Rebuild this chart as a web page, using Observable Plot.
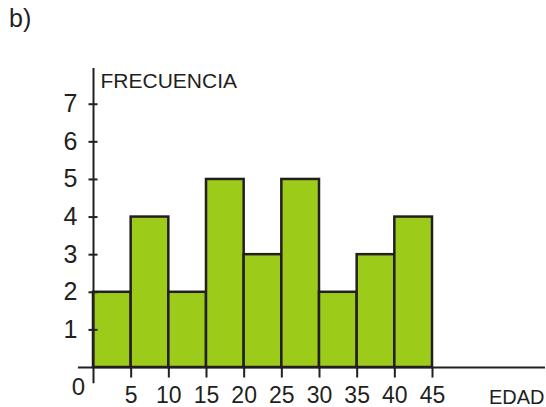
<!DOCTYPE html>
<html>
<head>
<meta charset="utf-8">
<script src="https://cdn.jsdelivr.net/npm/d3@7"></script>
<script src="https://cdn.jsdelivr.net/npm/@observablehq/plot@0.6"></script>
<style>
  body { margin: 0; background: #fff; }
  #wrap { position: relative; width: 546px; height: 407px; font-family: "Liberation Sans", Arial, sans-serif; }
  #tag { position: absolute; left: 9px; top: 4px; font-size: 25px; color: #231f20; }
</style>
</head>
<body>
<div id="wrap"><div id="tag">b)</div></div>
<script>
const binStarts = [0, 5, 10, 15, 20, 25, 30, 35, 40];
const binWidth = 5;
const frequencies = [2, 4, 2, 5, 3, 5, 2, 3, 4];
const xTickValues = [5, 10, 15, 20, 25, 30, 35, 40, 45];
const yTickValues = [1, 2, 3, 4, 5, 6, 7];
const yAxisLabel = "FRECUENCIA";
const xAxisLabel = "EDAD";

const bars = binStarts.map((s, i) => ({x1: s, x2: s + binWidth, y: frequencies[i]}));
const ink = "#231f20";

const chart = Plot.plot({
  width: 546,
  height: 407,
  marginLeft: 93,
  marginRight: 1,
  marginTop: 68,
  marginBottom: 40,
  style: {fontFamily: "'Liberation Sans', Arial, sans-serif", background: "transparent"},
  x: {domain: [0, 60], axis: null},
  y: {domain: [0, 7.95], axis: null},
  marks: [
    Plot.rectY(bars, {x1: "x1", x2: "x2", y1: 0, y2: "y", fill: "#9dcb19", stroke: ink, strokeWidth: 2.5}),
    Plot.ruleY([0], {x1: -2, x2: 60, stroke: ink, strokeWidth: 2}),
    Plot.ruleX([0], {y1: -0.43, y2: 7.95, stroke: ink, strokeWidth: 2}),
    Plot.ruleY(yTickValues, {x1: -0.6, x2: 0.6, stroke: ink, strokeWidth: 2}),
    Plot.ruleX(xTickValues, {y1: 0, y2: -0.28, stroke: ink, strokeWidth: 2}),
    Plot.text(yTickValues, {x: 0, y: d => d, text: d => String(d), dx: -16, textAnchor: "end", fontSize: 25, fill: ink}),
    Plot.text(xTickValues, {x: d => d, y: 0, text: d => String(d), dy: 28, fontSize: 23, fill: ink}),
    Plot.text(["0"], {x: 0, y: 0, text: d => d, dx: -15, dy: 20, fontSize: 24, fill: ink}),
    Plot.text([yAxisLabel], {x: 0, y: 7.95, text: d => d, dx: 7, dy: 5, textAnchor: "start", lineAnchor: "top", fontSize: 21, fill: ink}),
    Plot.text([xAxisLabel], {x: 60, y: 0, text: d => d, dx: -1, dy: 30, textAnchor: "end", fontSize: 20, fill: ink})
  ]
});
document.getElementById("wrap").appendChild(chart);
</script>
</body>
</html>
